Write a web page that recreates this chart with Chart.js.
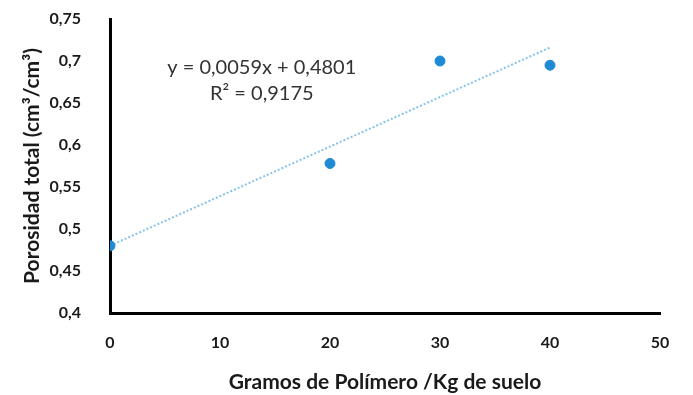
<!DOCTYPE html>
<html>
<head>
<meta charset="utf-8">
<script src="https://cdn.jsdelivr.net/npm/chart.js@4/dist/chart.umd.min.js"></script>
<style>
  html, body { margin: 0; padding: 0; background: #ffffff; }
  #wrap { width: 693px; height: 395px; }
</style>
</head>
<body>
<div id="wrap"><canvas id="c" width="693" height="395"></canvas></div>
<script>
// Polymer dose (g/kg soil) and measured total porosity (cm3/cm3)
const doses = [0, 20, 30, 40];
const porosity = [0.48, 0.578, 0.70, 0.695];

// Linear trend reported on the chart
const trendSlope = 0.0059;
const trendIntercept = 0.4801;
const trendR2 = 0.9175;
const trendRange = [0, 40];

// Axis tick labels (decimal comma)
const yTickLabels = ['0,4', '0,45', '0,5', '0,55', '0,6', '0,65', '0,7', '0,75'];
const xTickLabels = ['0', '10', '20', '30', '40', '50'];

const fmt = (v, d) => v.toFixed(d).replace('.', ',');
const eqLine1 = 'y = ' + fmt(trendSlope, 4) + 'x + ' + fmt(trendIntercept, 4);
const eqLine2 = 'R² = ' + fmt(trendR2, 4);

const trendPoints = trendRange.map(x => ({ x: x, y: trendIntercept + trendSlope * x }));
const points = doses.map((x, i) => ({ x: x, y: porosity[i] }));

const tickFont = { family: 'Lato, "Liberation Sans", sans-serif', size: 16, weight: 'bold' };
const titleFont = { family: 'Lato, "Liberation Sans", sans-serif', size: 21, weight: 'bold' };

// Draws the regression equation and R² inside the plot
const equationLabel = {
  id: 'equationLabel',
  afterDatasetsDraw(chart) {
    const { ctx, scales } = chart;
    const cx = scales.x.getPixelForValue(13.8);
    ctx.save();
    ctx.fillStyle = '#333333';
    ctx.font = '20px Lato, "Liberation Sans", sans-serif';
    ctx.textAlign = 'center';
    ctx.textBaseline = 'middle';
    ctx.fillText(eqLine1, cx, scales.y.getPixelForValue(0.6925));
    ctx.fillText(eqLine2, cx, scales.y.getPixelForValue(0.6610));
    ctx.restore();
  }
};

new Chart(document.getElementById('c'), {
  type: 'scatter',
  data: {
    datasets: [
      {
        label: 'Lineal',
        data: trendPoints,
        showLine: true,
        borderColor: '#86c3ea',
        borderWidth: 2,
        borderDash: [2, 2],
        pointRadius: 0,
        fill: false,
        order: 2
      },
      {
        label: 'Porosidad total',
        data: points,
        backgroundColor: '#1f8ad6',
        borderColor: '#1f8ad6',
        pointRadius: 5,
        order: 1
      }
    ]
  },
  options: {
    responsive: false,
    animation: false,
    layout: { padding: { left: 0, right: 33, top: 19, bottom: 0 } },
    plugins: {
      legend: { display: false },
      tooltip: { enabled: false }
    },
    scales: {
      x: {
        type: 'linear',
        min: 0,
        max: 50,
        ticks: {
          stepSize: 10,
          padding: 20,
          color: '#1a1a1a',
          font: tickFont,
          callback: (v, i) => xTickLabels[i]
        },
        grid: { display: false, drawTicks: false },
        border: { display: true, color: '#000000', width: 3 },
        title: {
          display: true,
          text: 'Gramos de Polímero /Kg de suelo',
          color: '#1a1a1a',
          font: titleFont,
          padding: { top: 0, bottom: 0 }
        },
        afterFit(scale) { scale.height = 82; }
      },
      y: {
        type: 'linear',
        min: 0.4,
        max: 0.75,
        ticks: {
          stepSize: 0.05,
          padding: 2,
          color: '#1a1a1a',
          font: tickFont,
          callback: (v, i) => yTickLabels[i]
        },
        grid: { display: false, drawTicks: true, tickLength: 27 },
        border: { display: true, color: '#000000', width: 3 },
        title: {
          display: true,
          text: 'Porosidad total (cm³/cm³)',
          color: '#1a1a1a',
          font: titleFont,
          padding: { top: 20, bottom: 0 }
        },
        afterFit(scale) { scale.width = 110; }
      }
    }
  },
  plugins: [equationLabel]
});
</script>
</body>
</html>
